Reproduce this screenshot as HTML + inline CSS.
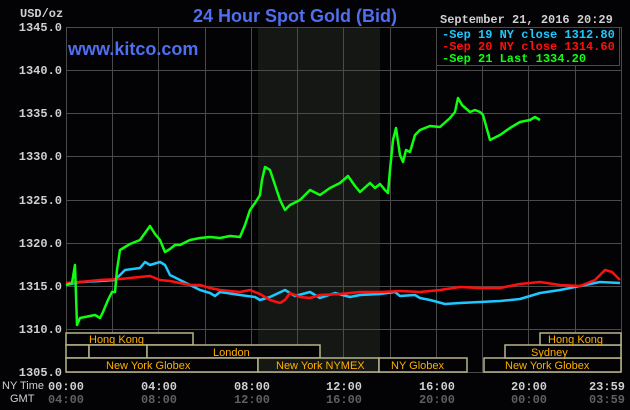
<!DOCTYPE html>
<html><head><style>
body{margin:0;background:#030305;width:630px;height:410px;overflow:hidden}
svg{display:block}
.m{font-family:"Liberation Mono","DejaVu Sans Mono",monospace;font-weight:bold}
</style></head><body>
<svg width="630" height="410" xmlns="http://www.w3.org/2000/svg">
<rect width="630" height="410" fill="#030305"/>
<rect x="258" y="27" width="122" height="345" fill="#151714"/>
<g stroke="#4a4a4a" stroke-width="1">
<line x1="66.5" y1="27" x2="66.5" y2="372"/>
<line x1="112.5" y1="27" x2="112.5" y2="372"/><line x1="158.5" y1="27" x2="158.5" y2="372"/>
<line x1="205.5" y1="27" x2="205.5" y2="372"/><line x1="251.5" y1="27" x2="251.5" y2="372"/>
<line x1="297.5" y1="27" x2="297.5" y2="372"/><line x1="343.5" y1="27" x2="343.5" y2="372"/>
<line x1="390.5" y1="27" x2="390.5" y2="372"/><line x1="436.5" y1="27" x2="436.5" y2="372"/>
<line x1="482.5" y1="27" x2="482.5" y2="372"/><line x1="528.5" y1="27" x2="528.5" y2="372"/>
<line x1="575.5" y1="27" x2="575.5" y2="372"/><line x1="621.5" y1="27" x2="621.5" y2="372"/>
<line x1="66" y1="27.5" x2="621" y2="27.5"/><line x1="66" y1="70.5" x2="621" y2="70.5"/>
<line x1="66" y1="113.5" x2="621" y2="113.5"/><line x1="66" y1="156.5" x2="621" y2="156.5"/>
<line x1="66" y1="200.5" x2="621" y2="200.5"/><line x1="66" y1="243.5" x2="621" y2="243.5"/>
<line x1="66" y1="286.5" x2="621" y2="286.5"/><line x1="66" y1="329.5" x2="621" y2="329.5"/>
<line x1="66" y1="372.5" x2="621" y2="372.5"/>
</g>
<g class="m" fill="#d0d0d0" font-size="12" text-anchor="end">
<text x="62" y="31">1345.0</text><text x="62" y="74">1340.0</text><text x="62" y="117">1335.0</text>
<text x="62" y="160">1330.0</text><text x="62" y="204">1325.0</text><text x="62" y="247">1320.0</text>
<text x="62" y="290">1315.0</text><text x="62" y="333">1310.0</text><text x="62" y="376">1305.0</text>
</g>
<text x="20" y="17" class="m" fill="#d0d0d0" font-size="12">USD/oz</text>
<text x="295" y="22" font-family="Liberation Sans,sans-serif" font-weight="bold" font-size="18" fill="#4f6ff0" text-anchor="middle">24 Hour Spot Gold (Bid)</text>
<text x="68" y="55" font-family="Liberation Sans,sans-serif" font-weight="bold" font-size="18" fill="#4f6ff0">www.kitco.com</text>
<text x="440" y="23" class="m" fill="#d0d0d0" font-size="12">September 21, 2016 20:29</text>
<rect x="436.5" y="27.5" width="183" height="38" fill="#030305" stroke="#4a4a4a"/>
<g class="m" font-size="12">
<text x="442" y="38" fill="#1ec8ff">-Sep 19 NY close 1312.80</text>
<text x="442" y="50" fill="#ff1010">-Sep 20 NY close 1314.60</text>
<text x="442" y="62" fill="#10ff10">-Sep 21 Last 1334.20</text>
</g>
<g fill="none" stroke-width="2.5" stroke-linejoin="round">
<polyline stroke="#1ec8ff" points="66,285 80,282 100,281 115,280 120,275 125,270 140,268 145,262 150,265 160,262 165,265 170,275 180,280 190,285 200,290 210,293 215,296 220,292 240,295 255,297 260,300 270,297 285,290 295,296 310,292 320,298 335,293 350,297 360,295 380,294 395,292 400,296 415,295 420,298 430,300 445,304 460,303 480,302 500,301 520,299 540,293 560,290 580,286 600,282 620,283"/>
<polyline stroke="#ff1010" points="66,283 80,282 100,280 120,279 140,277 150,276 160,280 170,281 190,285 200,285 210,288 220,290 240,292 250,290 260,294 270,300 280,303 285,300 290,293 300,297 310,298 320,295 340,294 360,292 380,292 400,291 420,292 440,290 460,287 480,288 500,288 520,284 540,282 560,285 580,286 595,280 605,270 612,272 620,280"/>
<polyline stroke="#10ff10" points="66,285 72,283 75,265 77,325 80,318 95,315 100,318 103,312 108,300 112,292 115,292 117,270 120,250 125,247 130,244 140,240 150,226 155,234 160,240 165,252 170,249 175,245 180,245 190,240 200,238 210,237 220,238 230,236 240,237 245,225 250,210 255,203 260,195 262,180 265,167 270,170 275,185 280,200 285,210 290,205 300,200 310,190 320,195 330,188 340,183 348,176 355,186 360,192 370,183 375,188 380,184 385,190 388,193 390,170 393,140 396,128 400,155 403,162 406,150 410,152 415,135 420,130 430,126 440,127 450,118 455,112 458,98 462,105 470,112 475,110 480,112 483,115 490,140 500,135 510,128 520,122 530,120 535,117 540,120"/>
</g>
<g stroke="#b8b48a" stroke-width="1.5" fill="#030305">
<rect x="66" y="333" width="127" height="12"/>
<rect x="66" y="345" width="23" height="13"/>
<rect x="89" y="345" width="58" height="13"/>
<rect x="147" y="345" width="173" height="13"/>
<rect x="66" y="358" width="192" height="14"/>
<rect x="258" y="358" width="121" height="14" fill="#151714"/>
<rect x="379" y="358" width="88" height="14"/>
<rect x="484" y="358" width="137" height="14"/>
<rect x="505" y="345" width="116" height="13"/>
<rect x="540" y="333" width="81" height="12"/>
</g>
<g font-family="Liberation Sans,sans-serif" font-size="11" fill="#ffb000">
<text x="89" y="343">Hong Kong</text>
<text x="213" y="356">London</text>
<text x="106" y="369">New York Globex</text>
<text x="276" y="369">New York NYMEX</text>
<text x="391" y="369">NY Globex</text>
<text x="505" y="369">New York Globex</text>
<text x="531" y="356">Sydney</text>
<text x="548" y="343">Hong Kong</text>
</g>
<text x="2" y="389" font-family="Liberation Sans,sans-serif" font-size="11" fill="#d0d0d0" textLength="42" lengthAdjust="spacingAndGlyphs">NY Time</text>
<text x="10" y="402" font-family="Liberation Sans,sans-serif" font-size="11" fill="#d0d0d0">GMT</text>
<g class="m" font-size="12" text-anchor="middle">
<g fill="#d0d0d0"><text x="66" y="390">00:00</text><text x="159" y="390">04:00</text><text x="252" y="390">08:00</text><text x="344" y="390">12:00</text><text x="437" y="390">16:00</text><text x="529" y="390">20:00</text><text x="607" y="390">23:59</text></g>
<g fill="#606060"><text x="66" y="403">04:00</text><text x="159" y="403">08:00</text><text x="252" y="403">12:00</text><text x="344" y="403">16:00</text><text x="437" y="403">20:00</text><text x="529" y="403">00:00</text><text x="607" y="403">03:59</text></g>
</g>
</svg>
</body></html>
